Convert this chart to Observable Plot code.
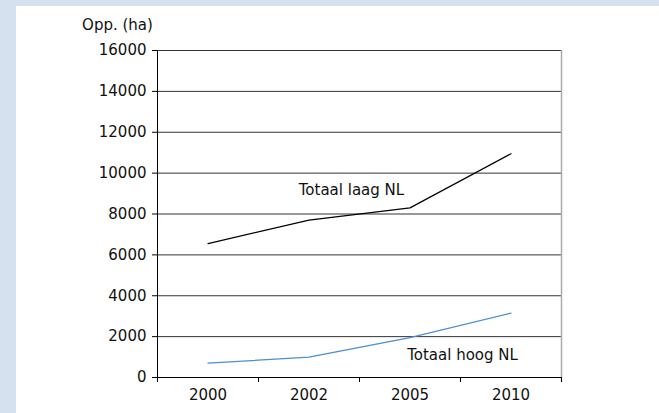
<!DOCTYPE html>
<html>
<head>
<meta charset="utf-8">
<script src="https://cdn.jsdelivr.net/npm/d3@7"></script>
<script src="https://cdn.jsdelivr.net/npm/@observablehq/plot@0.6"></script>
<style>
  html, body { margin: 0; padding: 0; background: #d5e1ef; }
  #wrap { position: relative; width: 659px; height: 413px; overflow: hidden; }
  #panel { position: absolute; left: 16px; top: 6px; right: 0; bottom: 0; background: #fff; }
  #chart { position: absolute; left: 0; top: 0; }
  #chart svg { background: transparent; }
</style>
</head>
<body>
<div id="wrap"><div id="panel"></div><div id="chart"></div></div>
<script>
const years = ["2000", "2002", "2005", "2010"];
const laag = [6550, 7700, 8300, 10950];
const hoog = [700, 1000, 1950, 3150];
const yTicks = [0, 2000, 4000, 6000, 8000, 10000, 12000, 14000, 16000];
const seriesNames = ["Totaal laag NL", "Totaal hoog NL"];
const labelPos = [{i: 1.42, v: 9150}, {i: 2.52, v: 1100}];

const rows = [];
years.forEach((y, i) => {
  rows.push({i, year: y, value: laag[i], s: seriesNames[0]});
  rows.push({i, year: y, value: hoog[i], s: seriesNames[1]});
});
const idx = years.map((_, i) => i);
const bounds = d3.range(-0.5, years.length, 1);
const labels = seriesNames.map((s, k) => ({s, i: labelPos[k].i, v: labelPos[k].v}));
const font = "DejaVu Sans, sans-serif";

const chart = Plot.plot({
  width: 659,
  height: 413,
  marginLeft: 157,
  marginRight: 98,
  marginTop: 50,
  marginBottom: 36,
  style: {fontFamily: font, fontSize: "15px", color: "#111", background: "transparent"},
  x: {domain: [-0.5, years.length - 0.5]},
  y: {domain: [0, 16000]},
  color: {domain: seriesNames, range: ["#000000", "#4a90d2"]},
  marks: [
    Plot.ruleY(yTicks.filter(d => d > 0), {stroke: "#333", strokeWidth: 1}),
    Plot.ruleX([years.length - 0.5], {stroke: "#aaa", strokeWidth: 1.5, insetBottom: -5}),
    Plot.axisY({ticks: yTicks, tickSize: 5, tickPadding: 6, tickFormat: d => String(d), label: null, fontSize: 15, stroke: "#000"}),
    Plot.axisX({ticks: idx, tickSize: 0, tickPadding: 12, tickFormat: i => years[i], label: null, fontSize: 15}),
    Plot.axisX({ticks: bounds, tickSize: 5, tickFormat: () => "", label: null, stroke: "#000"}),
    Plot.ruleX([-0.5], {stroke: "#000", strokeWidth: 1}),
    Plot.ruleY([0], {stroke: "#000", strokeWidth: 1, insetLeft: -5}),
    Plot.line(rows, {x: "i", y: "value", z: "s", stroke: "s", strokeWidth: 1.2}),
    Plot.text(labels, {x: "i", y: "v", text: "s", fontSize: 15, fill: "#111"}),
    Plot.text(["Opp. (ha)"], {frameAnchor: "top-left", textAnchor: "middle", dx: -40, dy: -31, fontSize: 15, fill: "#111"})
  ]
});
document.getElementById("chart").appendChild(chart);
</script>
</body>
</html>
